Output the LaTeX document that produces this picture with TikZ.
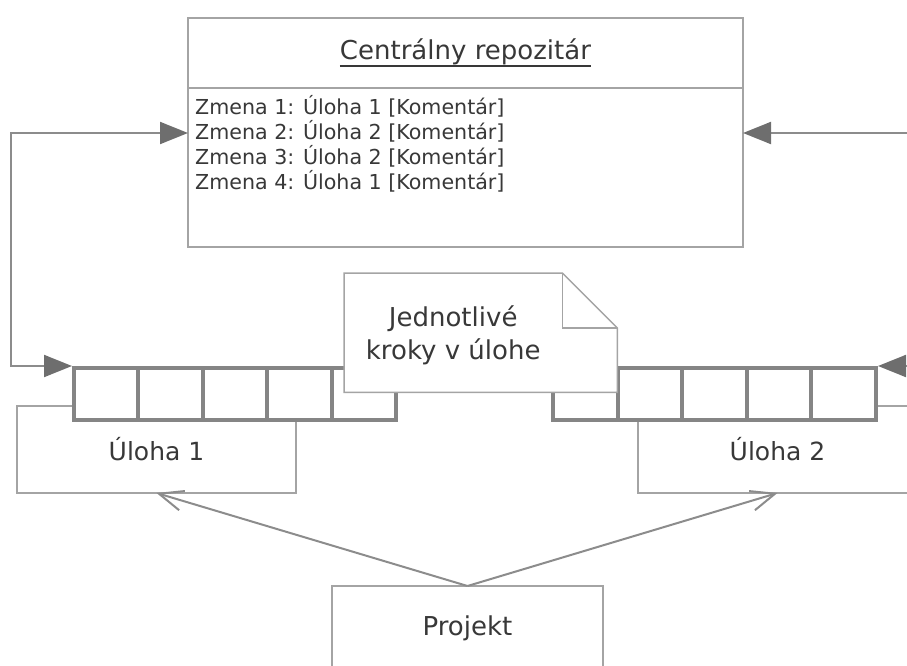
\documentclass[tikz,border=0pt]{standalone}
\usepackage{fontspec}
\setmainfont{DejaVu Sans}
\usetikzlibrary{arrows.meta}
\definecolor{boxline}{HTML}{A4A4A4}
\definecolor{barline}{HTML}{858585}
\definecolor{linkline}{HTML}{8C8C8C}
\definecolor{tipfill}{HTML}{6E6E6E}
\definecolor{ink}{HTML}{383838}
\begin{document}
\begin{tikzpicture}[x=1pt,y=-1pt,
  box/.style={draw=boxline, line width=1.5pt, fill=white, anchor=north west,
    inner sep=0pt, outer sep=0pt, text=ink},
  biglabel/.style={font=\fontsize{26}{33}\selectfont, text=ink, inner sep=0pt},
  tasklabel/.style={font=\fontsize{25}{30}\selectfont},
  bodytext/.style={font=\fontsize{20.6}{25}\selectfont, text=ink, inner sep=0pt, anchor=base west},
  cell/.style={draw=barline, line width=4pt, fill=white, anchor=north west,
    minimum height=52pt, inner sep=0pt},
  link/.style={draw=linkline, line width=2pt},
  solidtip/.tip={Triangle[length=28pt, width=22pt, color=tipfill]},
  opentip/.tip={Straight Barb[length=24pt, width=20pt]},
]
\useasboundingbox (0,0) rectangle (907,666);
\clip (0,0) rectangle (907,666);

% central repository
\node[box, minimum width=555pt, minimum height=229pt] (repo) at (188,18) {};
\coordinate (sep) at (188,88);
\draw[draw=boxline, line width=1.5pt] (repo.west |- sep) -- (repo.east |- sep);
\node[biglabel, anchor=base] (title) at (465.5,60) {Centrálny repozitár};
\draw[draw=ink, line width=1.2pt] ([yshift=-6pt]title.base west) -- ([yshift=-6pt]title.base east);
\foreach \nchg/\ntask in {1/1,2/2,3/2,4/1}
  \node[bodytext] (chg\nchg) at (195,{89.5+25*\nchg}) {Zmena \nchg: Úloha \ntask\ [Komentár]};

% tasks
\node[box, tasklabel, minimum width=279pt, minimum height=87pt] (task1) at (17,406) {Úloha 1};
\node[box, tasklabel, minimum width=279pt, minimum height=87pt] (task2) at (638,406) {Úloha 2};

% step bars
\foreach \k in {1,...,5}
  \node[cell, minimum width=64.4pt] (a\k) at ({72+64.4*(\k-1)},366) {};
\foreach \k in {1,...,5}
  \node[cell, minimum width=64.6pt] (b\k) at ({551+64.6*(\k-1)},366) {};

% note with folded corner
\node[anchor=north west, minimum width=273pt, minimum height=119pt, inner sep=0pt] (note) at (344,273) {};
\draw[draw=boxline, line width=1.5pt, fill=white, line join=miter]
  (note.south west) -- (note.north west) -- ([xshift=-55pt]note.north east)
  -- ([yshift=-55pt]note.north east) -- (note.south east) -- cycle;
\draw[draw=boxline, line width=1.5pt]
  ([xshift=-55pt]note.north east) -- ([xshift=-55pt,yshift=-55pt]note.north east)
  -- ([yshift=-55pt]note.north east);
\node[biglabel, align=center] (notetext) at ([xshift=-27.5pt,yshift=-3pt]note.center) {Jednotlivé\\kroky v úlohe};

% project
\node[box, biglabel, minimum width=271pt, minimum height=84pt] (proj) at (332,586) {Projekt};

% connectors
\coordinate (lt) at (11,133);
\coordinate (rt) at (940,133);
\draw[link, solidtip-solidtip] (a1.north west) -| (lt) -- (repo.west |- lt);
\draw[link, solidtip-solidtip] (b5.north east) -| (rt) -- (repo.east |- rt);
\draw[link, -opentip] (proj.north) -- (task1.south);
\draw[link, -opentip] (proj.north) -- (task2.south);
\end{tikzpicture}
\end{document}
